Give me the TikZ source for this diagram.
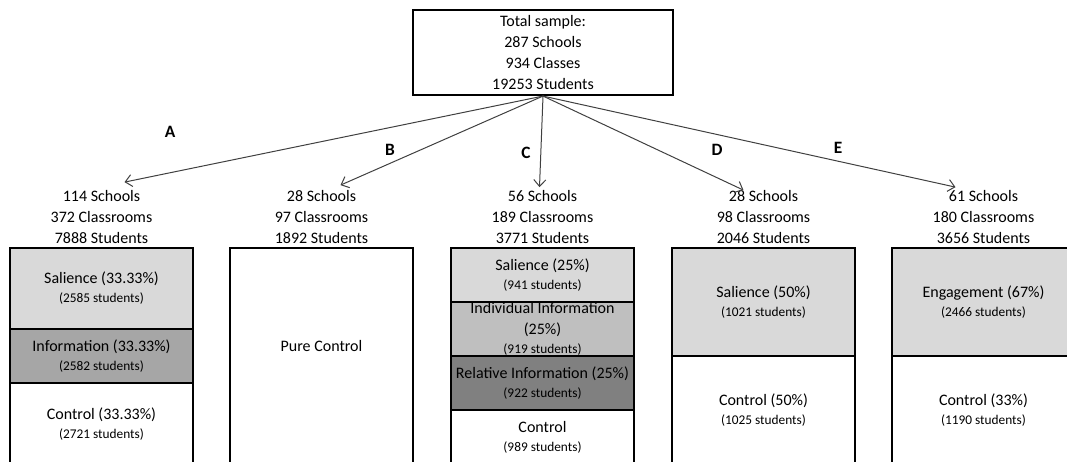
\documentclass[tikz,border=0pt]{standalone}
\usepackage{fontspec}
\setmainfont{Carlito}
\usepackage{tikz}
\usetikzlibrary{arrows.meta, positioning, calc}
\usepackage{xcolor}

\definecolor{lightgrey}{HTML}{D9D9D9}
\definecolor{infogrey}{HTML}{A6A6A6}
\definecolor{indivgrey}{HTML}{BFBFBF}
\definecolor{relgrey}{HTML}{808080}
\newcommand{\stud}[1]{{\fontsize{10}{11}\selectfont(#1 students)}}

\begin{document}
\begin{tikzpicture}[x=0.75pt, y=-0.75pt, >={Straight Barb[length=5pt, width=9pt]},
  total/.style={draw, line width=1.6pt, minimum width=260*0.75pt, minimum height=85*0.75pt,
    align=center, inner sep=0pt, font=\fontsize{12}{15.75}\selectfont},
  head/.style={align=center, inner sep=0pt, font=\fontsize{12}{15.75}\selectfont},
  seg/.style={anchor=north, minimum width=183*0.75pt, inner sep=0pt, outer sep=0pt,
    align=center, font=\fontsize{12}{14.25}\selectfont},
  segh/.style={minimum height=#1*0.75pt},
  conn/.style={->, draw=black!75, line width=0.75pt},
  lab/.style={font=\fontsize{13}{13}\selectfont\bfseries},
  frame/.style={line width=1.6pt},
  sep/.style={line width=1.2pt}]
  \useasboundingbox (0,0) rectangle (1067,461);
  \clip (0,0) rectangle (1067,461);
  \coordinate (bot) at (0,475);

  % total sample
  \node[total] (root) at (543,52.5) {Total sample:\\287 Schools\\934 Classes\\19253 Students};

  % groups
  \node[head] (hA) at (101.5,217) {114 Schools\\372 Classrooms\\7888 Students};
  \node[head] (hB) at (321.5,217) {28 Schools\\97 Classrooms\\1892 Students};
  \node[head] (hC) at (542.5,217) {56 Schools\\189 Classrooms\\3771 Students};
  \node[head] (hD) at (763.5,217) {28 Schools\\98 Classrooms\\2046 Students};
  \node[head] (hE) at (983.5,217) {61 Schools\\180 Classrooms\\3656 Students};

  \draw[conn] (root.south) -- ($(hA.north)+(23,-8)$);
  \draw[conn] (root.south) -- ($(hB.north)+(19,-5)$);
  \draw[conn] (root.south) -- ($(hC.north)+(-3,-3)$);
  \draw[conn] (root.south) -- ($(hD.north)+(-20,0)$);
  \draw[conn] (root.south) -- ($(hE.north)+(-28,-3)$);

  \node[lab] (lA) at (170,132) {A};
  \node[lab] (lB) at (390,150) {B};
  \node[lab] (lC) at (526,153) {C};
  \node[lab] (lD) at (717,150) {D};
  \node[lab] (lE) at (838,148) {E};

  % A
  \node[seg, segh=81, fill=lightgrey] (sA1) at (101.5,248) {Salience (33.33\%)\\\stud{2585}};
  \node[seg, segh=54, fill=infogrey, below=0pt of sA1] (sA2) {Information (33.33\%)\\\stud{2582}};
  \node[seg, segh=83, below=0pt of sA2] (sA3) {Control (33.33\%)\\\stud{2721}};
  \draw[sep] (sA1.south west) -- (sA1.south east);
  \draw[sep] (sA2.south west) -- (sA2.south east);
  \draw[frame] (sA1.north west) rectangle (sA1.north east |- bot);

  % B
  \node[seg, segh=196] (sB1) at (321.5,248) {Pure Control};
  \draw[frame] (sB1.north west) rectangle (sB1.north east |- bot);

  % C
  \node[seg, segh=54, fill=lightgrey] (sC1) at (542.5,248) {Salience (25\%)\\\stud{941}};
  \node[seg, segh=54, fill=indivgrey, below=0pt of sC1] (sC2) {Individual Information\\[1.5pt](25\%)\\\stud{919}};
  \node[seg, segh=54, fill=relgrey, below=0pt of sC2] (sC3) {Relative Information (25\%)\\\stud{922}};
  \node[seg, segh=55, below=0pt of sC3] (sC4) {Control\\\stud{989}};
  \draw[sep] (sC1.south west) -- (sC1.south east);
  \draw[sep] (sC2.south west) -- (sC2.south east);
  \draw[sep] (sC3.south west) -- (sC3.south east);
  \draw[frame] (sC1.north west) rectangle (sC1.north east |- bot);

  % D
  \node[seg, segh=108, fill=lightgrey] (sD1) at (763.5,248) {Salience (50\%)\\\stud{1021}};
  \node[seg, segh=109, below=0pt of sD1] (sD2) {Control (50\%)\\\stud{1025}};
  \draw[sep] (sD1.south west) -- (sD1.south east);
  \draw[frame] (sD1.north west) rectangle (sD1.north east |- bot);

  % E
  \node[seg, segh=108, fill=lightgrey] (sE1) at (983.5,248) {Engagement (67\%)\\\stud{2466}};
  \node[seg, segh=109, below=0pt of sE1] (sE2) {Control (33\%)\\\stud{1190}};
  \draw[sep] (sE1.south west) -- (sE1.south east);
  \draw[frame] (sE1.north west) rectangle (sE1.north east |- bot);
\end{tikzpicture}
\end{document}
